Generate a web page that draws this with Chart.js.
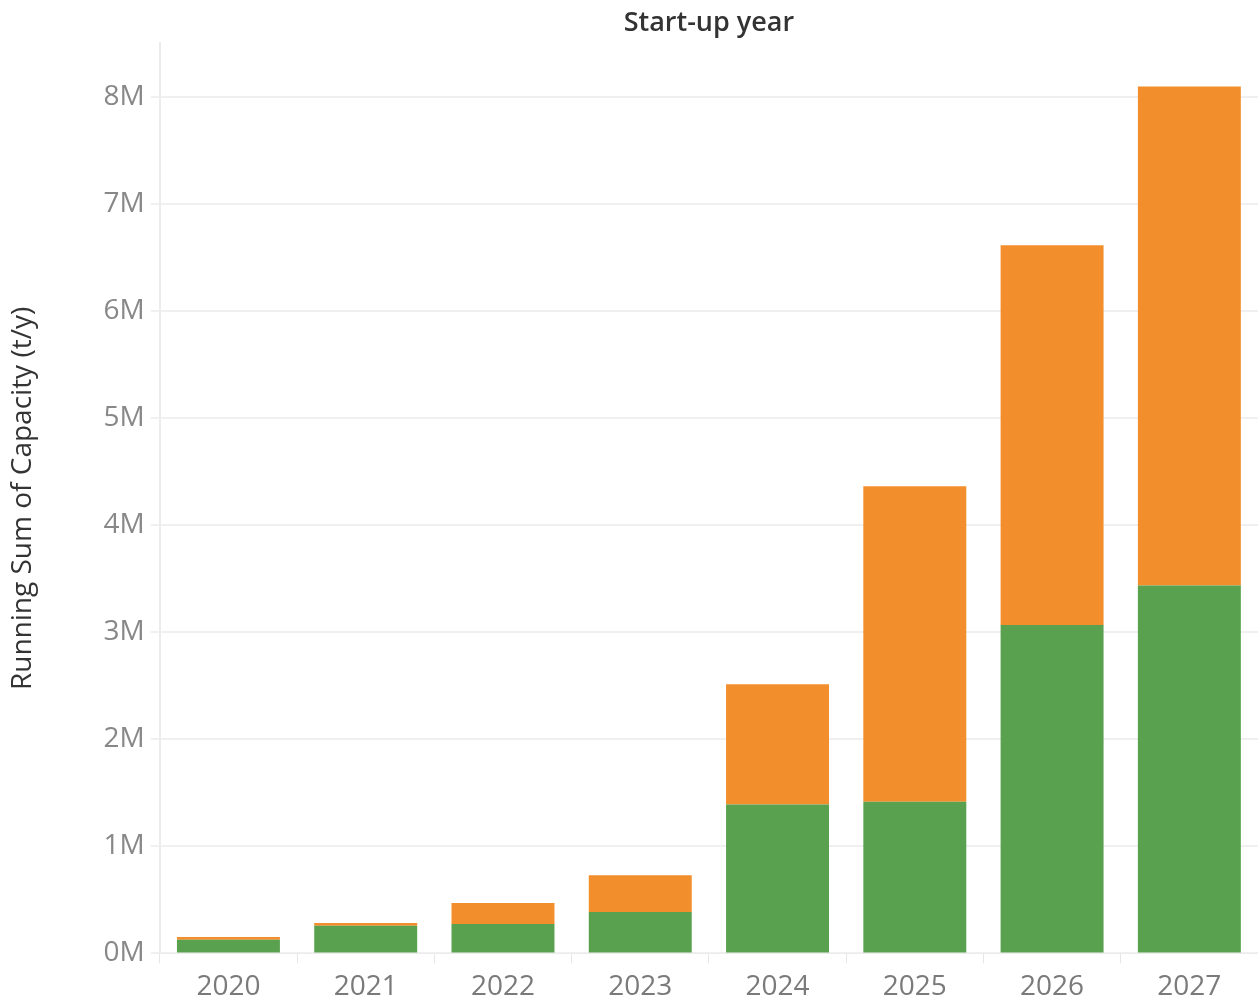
<!DOCTYPE html>
<html>
<head>
<meta charset="utf-8">
<script src="https://cdn.jsdelivr.net/npm/chart.js@4.4.1/dist/chart.umd.min.js"></script>
<style>
  html, body { margin: 0; padding: 0; background: #fff; }
  #wrap { width: 1258px; height: 999px; }
</style>
</head>
<body>
<div id="wrap"><canvas id="myChart" width="1258" height="999"></canvas></div>
<script>
// Start-up years on the x axis
const years = ["2020", "2021", "2022", "2023", "2024", "2025", "2026", "2027"];

// Running sum of capacity (t/y), split into two stacked segments
const greenCapacity  = [128000, 259000, 275000, 387000, 1391000, 1416000, 3068000, 3437000];
const orangeCapacity = [25000, 25000, 196000, 343000, 1122000, 2947000, 3546000, 4661000];

// y axis ticks shown, in millions
const yTickValues = [0, 1, 2, 3, 4, 5, 6, 7, 8];

const greenColor = "#59a14f";
const orangeColor = "#f28e2b";
const fontFamily = "'Open Sans', 'Noto Sans', sans-serif";

const ctx = document.getElementById("myChart").getContext("2d");

const chartInstance = new Chart(ctx, {
    type: "bar",
    data: {
        labels: years,
        datasets: [{
            label: "Green",
            data: greenCapacity,
            backgroundColor: greenColor,
            borderWidth: 0
        }, {
            label: "Orange",
            data: orangeCapacity,
            backgroundColor: orangeColor,
            borderWidth: 0
        }]
    },
    options: {
        responsive: false,
        animation: false,
        layout: { padding: { left: 2, right: 0, top: 0, bottom: -12 } },
        datasets: {
            bar: { categoryPercentage: 1, barPercentage: 0.75 }
        },
        plugins: {
            legend: { display: false },
            tooltip: { enabled: false },
            title: {
                display: true,
                fullSize: false,
                text: "Start-up year",
                color: "#333",
                font: { family: fontFamily, size: 27, weight: "600" },
                padding: { top: 7, bottom: 4 }
            }
        },
        scales: {
            x: {
                stacked: true,
                offset: true,
                grid: {
                    offset: true,
                    drawOnChartArea: false,
                    color: "#e6e6e6",
                    tickLength: 10
                },
                border: { color: "#ececec" },
                ticks: {
                    color: "#7a7a7a",
                    padding: 7,
                    font: { family: fontFamily, size: 28 }
                }
            },
            y: {
                stacked: true,
                min: 0,
                max: 8500000,
                afterBuildTicks: function (axis) {
                    axis.ticks = yTickValues.map(v => ({ value: v * 1000000 }));
                },
                grid: {
                    color: "#f0f0f0",
                    tickLength: 9,
                    lineWidth: 2
                },
                border: { color: "#ececec", width: 2 },
                ticks: {
                    color: "#888",
                    padding: 6,
                    font: { family: fontFamily, size: 28 },
                    callback: function (value) {
                        return (value / 1000000) + "M";
                    }
                },
                title: {
                    display: true,
                    text: "Running Sum of Capacity (t/y)",
                    color: "#333",
                    font: { family: fontFamily, size: 28 },
                    padding: { top: 4, bottom: 58 }
                }
            }
        }
    }
});
</script>
</body>
</html>
